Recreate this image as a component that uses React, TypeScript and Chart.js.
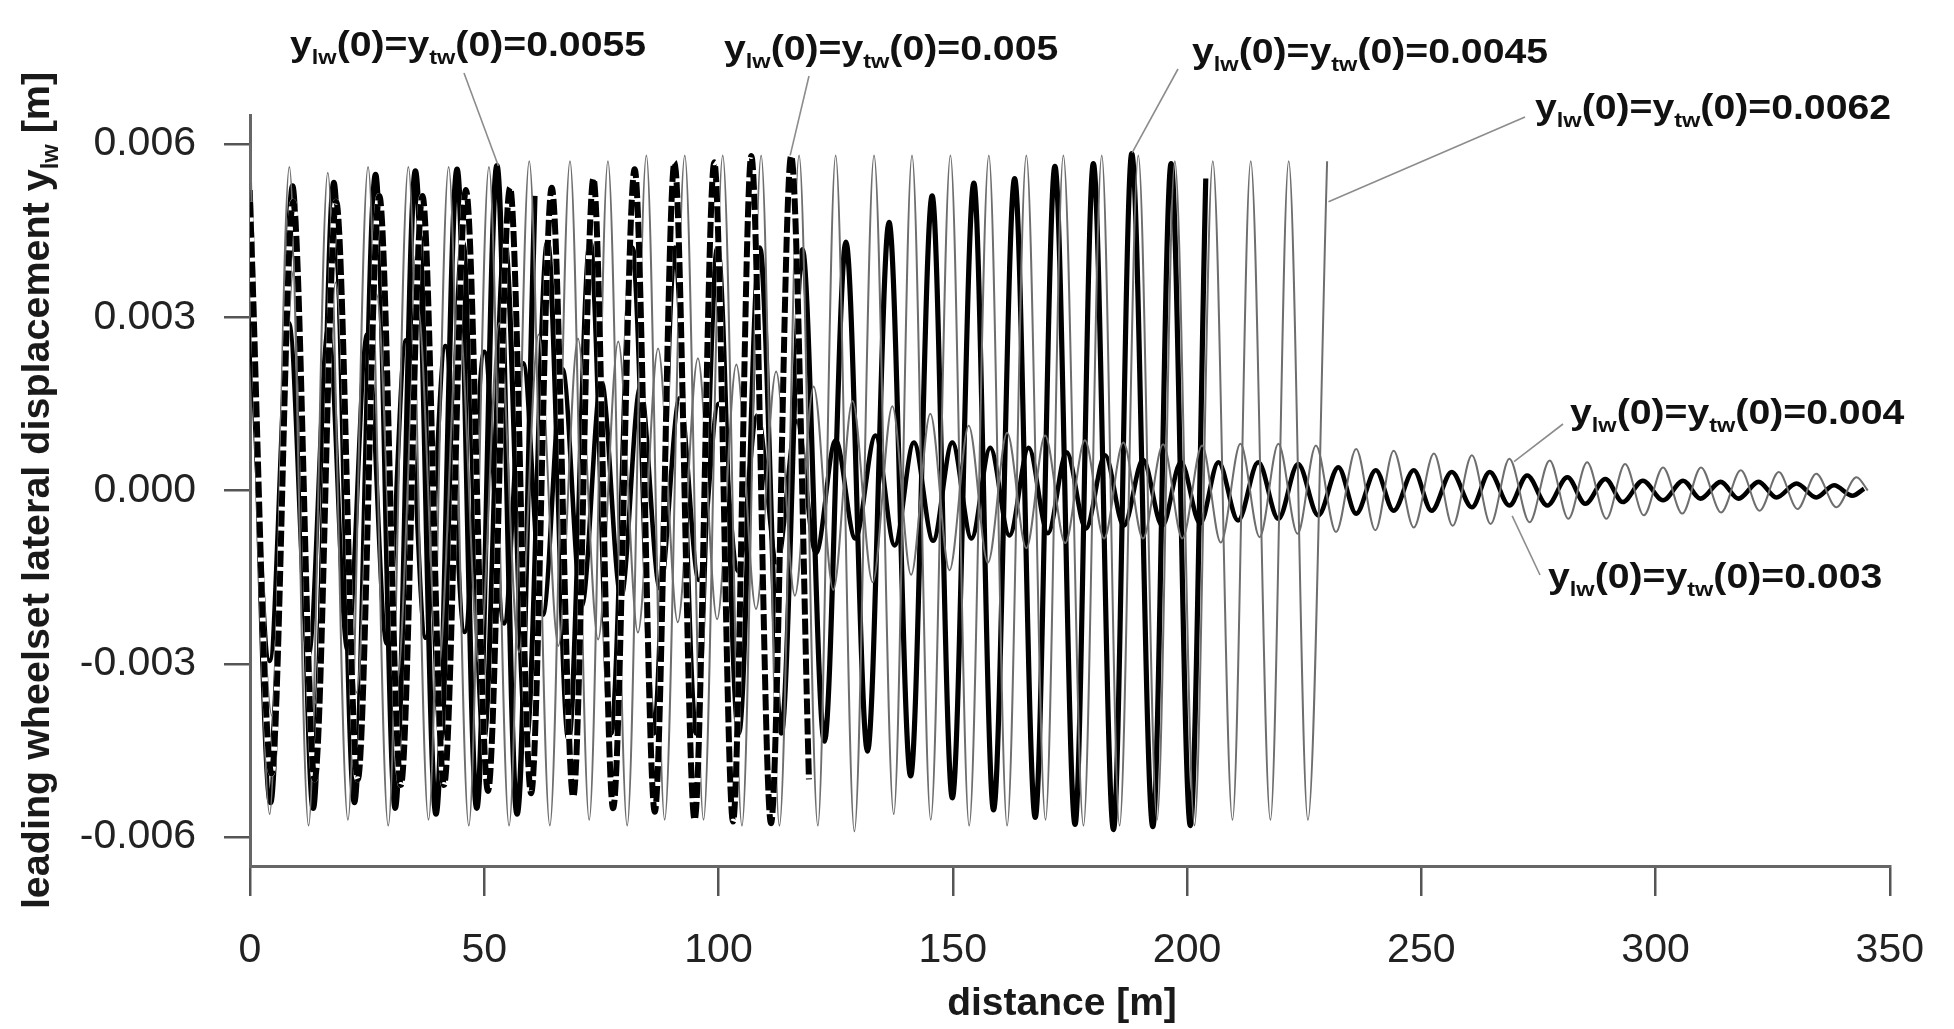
import React, { useEffect, useRef } from 'react';
import { Chart, registerables } from 'chart.js';

Chart.register(...registerables);

// ---------- axes ----------
const xTicks = [0, 50, 100, 150, 200, 250, 300, 350];
const yTicks = [-0.006, -0.003, 0, 0.003, 0.006];

// ---------- series: extrema (x in m, y in m) ----------
// y_lw(0)=y_tw(0)=0.0062  (thin grey)
const s0062PeakX = [0, 8.4, 16.6, 25.2, 33.8, 42.4, 51.0, 59.6, 68.3, 76.4, 84.6, 92.8, 100.9, 109.1, 117.2, 125.0, 133.2, 141.3, 149.5, 157.7, 165.7, 173.6, 181.8, 189.6, 197.4, 205.5, 213.6, 221.7, 229.9];
const s0062PeakY = [0.0060, 0.0056, 0.0055, 0.0056, 0.0056, 0.0056, 0.0056, 0.0057, 0.0057, 0.0057, 0.0058, 0.0058, 0.0058, 0.0058, 0.0058, 0.0058, 0.0058, 0.0058, 0.0058, 0.0058, 0.0058, 0.0058, 0.0058, 0.0058, 0.0057, 0.0057, 0.0057, 0.0057, 0.0057];
const s0062TroughX = [4.2, 12.5, 20.9, 29.5, 38.1, 46.7, 55.3, 64.0, 72.4, 80.5, 88.5, 96.8, 105.0, 113.0, 121.2, 129.0, 137.4, 145.3, 153.5, 161.6, 169.8, 177.9, 185.6, 193.6, 201.6, 209.7, 217.8, 225.8];
const s0062TroughY = [-0.0056, -0.0058, -0.0057, -0.0058, -0.0057, -0.0058, -0.0058, -0.0058, -0.0057, -0.0058, -0.0057, -0.0057, -0.0058, -0.0058, -0.0058, -0.0059, -0.0056, -0.0057, -0.0058, -0.0058, -0.0057, -0.0058, -0.0058, -0.0057, -0.0058, -0.0057, -0.0057, -0.0057];

// y_lw(0)=y_tw(0)=0.0055  (thick solid)
const s0055PeakX = [0, 9.1, 17.9, 26.8, 35.3, 44.2, 52.7, 60.8];
const s0055PeakY = [0.0052, 0.00527, 0.00533, 0.00547, 0.00553, 0.00556, 0.00562, 0.0051];
const s0055TroughX = [4.4, 13.5, 22.3, 31.0, 39.7, 48.4, 57.0];
const s0055TroughY = [-0.0054, -0.0055, -0.0054, -0.0055, -0.0056, -0.0055, -0.0056];

// y_lw(0)=y_tw(0)=0.005  (thick dashed)
const s005PeakX = [0, 9.2, 18.4, 27.6, 36.8, 46.1, 55.5, 64.4, 73.3, 82.1, 90.6, 99.1, 107.0, 115.5];
const s005PeakY = [0.0050, 0.0050, 0.0050, 0.0051, 0.0051, 0.0052, 0.00524, 0.00524, 0.0054, 0.00556, 0.00568, 0.00568, 0.00579, 0.00579];
const s005TroughX = [4.6, 13.8, 23.0, 32.2, 41.4, 50.8, 60.0, 69.0, 77.5, 86.4, 94.9, 103.1, 111.2, 119.3];
const s005TroughY = [-0.0049, -0.0050, -0.0050, -0.0051, -0.0051, -0.0052, -0.00524, -0.0053, -0.0055, -0.00556, -0.0057, -0.00573, -0.00576, -0.0050];

// y_lw(0)=y_tw(0)=0.0045  (thick solid)
const s0045PeakX = [0, 9.1, 18.1, 27.2, 36.3, 45.4, 54.4, 63.5, 72.6, 81.6, 90.7, 99.8, 108.8, 117.9, 127.2, 136.4, 145.6, 154.5, 163.2, 171.8, 180.0, 188.2, 196.6, 204.0];
const s0045PeakY = [0.0045, 0.0045, 0.0044, 0.0044, 0.0044, 0.0043, 0.0043, 0.0043, 0.0043, 0.0042, 0.0042, 0.0042, 0.0042, 0.00417, 0.0043, 0.00464, 0.0051, 0.00532, 0.0054, 0.00561, 0.00566, 0.00583, 0.00566, 0.0054];
const s0045TroughX = [4.5, 13.6, 22.7, 31.7, 40.8, 49.9, 59.0, 68.0, 77.1, 86.2, 95.2, 104.3, 113.4, 122.6, 131.8, 141.0, 149.9, 158.7, 167.6, 176.1, 184.3, 192.7, 200.7];
const s0045TroughY = [-0.0045, -0.0044, -0.0044, -0.0044, -0.0043, -0.0043, -0.0043, -0.0043, -0.0042, -0.0042, -0.0042, -0.0042, -0.0042, -0.00434, -0.00451, -0.00494, -0.00532, -0.00553, -0.00566, -0.00578, -0.00587, -0.00582, -0.0058];

// y_lw(0)=y_tw(0)=0.004  (thin grey)
const s004PeakX = [0, 9.3, 18.3, 27.0, 35.8, 44.6, 53.2, 61.6, 70.0, 78.6, 87.1, 95.6, 103.8, 112.3, 120.3, 128.6, 137.1, 145.2, 153.4, 161.6, 169.7, 178.2, 186.4, 194.9, 203.2, 211.4, 219.5, 227.5, 236.1, 244.1, 252.7, 260.8, 268.8, 277.4, 285.4, 293.5, 301.6, 309.7, 318.2, 326.3, 334.3, 342.9];
const s004PeakY = [0.0040, 0.0038, 0.0036, 0.0034, 0.0032, 0.0030, 0.0029, 0.0027, 0.00263, 0.00258, 0.00246, 0.00229, 0.00218, 0.00206, 0.0018, 0.00155, 0.00146, 0.00133, 0.00112, 0.0010, 0.00095, 0.00087, 0.00083, 0.0008, 0.00078, 0.00081, 0.00081, 0.00078, 0.00072, 0.00069, 0.00064, 0.00061, 0.00055, 0.00052, 0.00049, 0.00046, 0.0004, 0.0004, 0.00035, 0.00032, 0.00029, 0.00023];
const s004TroughX = [4.7, 13.8, 22.7, 31.4, 40.2, 48.9, 57.4, 65.8, 74.3, 82.8, 91.3, 99.7, 108.0, 116.3, 124.5, 132.9, 141.1, 149.3, 157.5, 165.7, 174.0, 182.3, 190.6, 199.0, 207.2, 215.5, 223.6, 231.8, 240.2, 248.4, 256.7, 264.8, 273.1, 281.4, 289.5, 297.5, 305.7, 314.0, 322.2, 330.3, 338.6, 345.3];
const s004TroughY = [-0.0039, -0.0037, -0.0035, -0.0033, -0.0031, -0.0030, -0.0028, -0.00269, -0.00258, -0.00246, -0.00228, -0.00223, -0.00205, -0.00182, -0.00172, -0.00159, -0.00146, -0.00138, -0.00125, -0.0010, -0.00091, -0.00083, -0.00083, -0.00083, -0.0009, -0.00081, -0.00075, -0.00072, -0.00069, -0.00064, -0.00061, -0.00058, -0.00055, -0.00049, -0.00049, -0.00043, -0.0004, -0.00038, -0.00035, -0.00032, -0.00029, 0.0];

// y_lw(0)=y_tw(0)=0.003  (thick solid)
const s003PeakX = [0, 8.3, 16.7, 25.0, 33.3, 41.7, 50.0, 58.3, 66.7, 75.0, 83.3, 91.7, 100.0, 108.3, 116.7, 125.0, 133.5, 141.7, 149.9, 158.0, 166.2, 174.3, 182.5, 190.6, 198.7, 206.7, 215.2, 223.7, 232.3, 240.3, 248.4, 256.5, 264.6, 272.6, 281.2, 289.3, 297.3, 305.9, 313.9, 322.0, 330.1, 338.1, 344.5];
const s003PeakY = [0.0030, 0.0029, 0.0028, 0.0027, 0.0026, 0.0025, 0.0024, 0.0022, 0.0021, 0.0019, 0.0018, 0.0016, 0.0015, 0.0013, 0.0012, 0.00087, 0.00095, 0.00083, 0.00083, 0.00074, 0.00074, 0.00066, 0.00061, 0.00053, 0.00049, 0.00049, 0.00049, 0.00046, 0.0004, 0.00035, 0.00035, 0.00032, 0.00032, 0.00026, 0.00023, 0.0002, 0.00017, 0.00017, 0.00015, 0.00015, 0.00012, 0.00009, 0.00003];
const s003TroughX = [4.2, 12.5, 20.8, 29.2, 37.5, 45.8, 54.2, 62.5, 70.8, 79.2, 87.5, 95.8, 104.2, 112.5, 120.8, 129.2, 137.6, 145.8, 154.0, 162.1, 170.3, 178.4, 186.5, 194.7, 202.8, 210.9, 219.5, 228.0, 236.1, 244.1, 252.2, 260.8, 268.8, 276.9, 285.0, 293.0, 301.6, 309.6, 317.7, 325.8, 334.3, 342.0];
const s003TroughY = [-0.00295, -0.00285, -0.00275, -0.00265, -0.00255, -0.00245, -0.0023, -0.00215, -0.002, -0.00185, -0.0017, -0.00155, -0.0014, -0.00125, -0.00108, -0.00083, -0.00095, -0.00087, -0.00083, -0.00078, -0.00074, -0.00066, -0.00061, -0.00061, -0.00057, -0.00052, -0.00049, -0.00043, -0.0004, -0.00035, -0.00035, -0.00029, -0.00026, -0.00026, -0.00023, -0.0002, -0.00017, -0.00014, -0.00014, -0.00012, -0.00012, -0.00009];

// ---------- annotations ----------
const annValues = ['0.0055', '0.005', '0.0045', '0.0062', '0.004', '0.003'];
const annAnchorX = [53.0, 115.3, 188.3, 230.2, 269.8, 269.4];
const annAnchorY = [0.00562, 0.0058, 0.00585, 0.0050, 0.0005, -0.00044];
// label layout (pixels): text left, text baseline, leader start
const annTextLeft = [290, 724, 1192, 1535, 1570, 1548];
const annTextBase = [56, 60, 63, 119, 424, 588];
const annLeadX = [464, 809, 1178, 1525, 1563, 1540];
const annLeadY = [73, 76, 69, 117, 424, 575];

const FAM = "'Liberation Sans', Arial, Helvetica, sans-serif";

function merge(px: number[], py: number[], tx: number[], ty: number[]) {
  const pts: { x: number; y: number }[] = [];
  const n1 = Math.min(px.length, py.length);
  for (let i = 0; i < n1; i++) pts.push({ x: px[i], y: py[i] });
  const n2 = Math.min(tx.length, ty.length);
  for (let i = 0; i < n2; i++) pts.push({ x: tx[i], y: ty[i] });
  pts.sort((a, b) => a.x - b.x);
  return pts;
}

type Seg = { t: string; sub?: boolean };

function drawRich(ctx: CanvasRenderingContext2D, segs: Seg[], size: number, stretch: number, center: boolean) {
  const subSize = size * 0.6;
  const widths = segs.map((s) => {
    ctx.font = `bold ${s.sub ? subSize : size}px ${FAM}`;
    return ctx.measureText(s.t).width;
  });
  const total = widths.reduce((a, b) => a + b, 0);
  ctx.save();
  ctx.scale(stretch, 1);
  let cx = center ? -total / 2 : 0;
  ctx.textAlign = 'left';
  ctx.textBaseline = 'alphabetic';
  segs.forEach((s, i) => {
    ctx.font = `bold ${s.sub ? subSize : size}px ${FAM}`;
    ctx.fillText(s.t, cx, s.sub ? size * 0.24 : 0);
    cx += widths[i];
  });
  ctx.restore();
}

const textPlugin = {
  id: 'textPlugin',
  afterDraw(chart: any) {
    const ctx: CanvasRenderingContext2D = chart.ctx;
    const xs = chart.scales.x;
    const ys = chart.scales.y;
    const area = chart.chartArea;

    // leader lines
    ctx.save();
    ctx.strokeStyle = '#8c8c8c';
    ctx.lineWidth = 1.6;
    annValues.forEach((_, i) => {
      ctx.beginPath();
      ctx.moveTo(annLeadX[i], annLeadY[i]);
      ctx.lineTo(xs.getPixelForValue(annAnchorX[i]), ys.getPixelForValue(annAnchorY[i]));
      ctx.stroke();
    });
    ctx.restore();

    // labels
    ctx.save();
    ctx.fillStyle = '#111';
    annValues.forEach((v, i) => {
      ctx.save();
      ctx.translate(annTextLeft[i], annTextBase[i]);
      drawRich(
        ctx,
        [{ t: 'y' }, { t: 'lw', sub: true }, { t: '(0)=y' }, { t: 'tw', sub: true }, { t: '(0)=' + v }],
        35,
        1.12,
        false
      );
      ctx.restore();
    });
    ctx.restore();

    // y axis title
    ctx.save();
    ctx.fillStyle = '#1a1a1a';
    ctx.translate(49, (area.top + area.bottom) / 2);
    ctx.rotate(-Math.PI / 2);
    drawRich(ctx, [{ t: 'leading wheelset lateral displacement y' }, { t: 'lw', sub: true }, { t: ' [m]' }], 39.5, 1, true);
    ctx.restore();

    // x axis title
    ctx.save();
    ctx.fillStyle = '#1a1a1a';
    ctx.translate(area.left + 812, 1015);
    drawRich(ctx, [{ t: 'distance [m]' }], 39, 1, true);
    ctx.restore();
  },
};

export default function App() {
  const ref = useRef<HTMLCanvasElement | null>(null);

  useEffect(() => {
    if (!ref.current) return;
    const grey = '#6e6e6e';
    const d0062 = merge(s0062PeakX, s0062PeakY, s0062TroughX, s0062TroughY);
    const d0055 = merge(s0055PeakX, s0055PeakY, s0055TroughX, s0055TroughY);
    const d005 = merge(s005PeakX, s005PeakY, s005TroughX, s005TroughY);
    const d0045 = merge(s0045PeakX, s0045PeakY, s0045TroughX, s0045TroughY);
    const d004 = merge(s004PeakX, s004PeakY, s004TroughX, s004TroughY);
    const d003 = merge(s003PeakX, s003PeakY, s003TroughX, s003TroughY);

    const chart = new Chart(ref.current, {
      type: 'line',
      data: {
        datasets: [
          { label: '0.005', data: d005, borderColor: '#000', borderWidth: 6, borderDash: [16, 4] },
          { label: '0.005w', data: d005, borderColor: '#fff', borderWidth: 6 },
          { label: '0.0062', data: d0062, borderColor: grey, borderWidth: 2 },
          { label: '0.004', data: d004, borderColor: grey, borderWidth: 2 },
          { label: '0.003', data: d003, borderColor: '#000', borderWidth: 4.6 },
          { label: '0.0045', data: d0045, borderColor: '#000', borderWidth: 5.2 },
          { label: '0.0055', data: d0055, borderColor: '#000', borderWidth: 5.5 },
        ] as any,
      },
      options: {
        animation: false,
        responsive: false,
        devicePixelRatio: 1,
        layout: { padding: { left: 0, right: 60, top: 115, bottom: 0 } },
        plugins: { legend: { display: false }, tooltip: { enabled: false } },
        elements: {
          point: { radius: 0 },
          line: { cubicInterpolationMode: 'monotone', fill: false, borderJoinStyle: 'round', borderCapStyle: 'butt' },
        },
        scales: {
          x: {
            type: 'linear',
            min: 0,
            max: 350,
            afterBuildTicks: (s: any) => {
              s.ticks = xTicks.map((v) => ({ value: v }));
            },
            afterFit: (s: any) => {
              s.height = 163;
            },
            grid: { drawOnChartArea: false, drawTicks: true, tickLength: 30, color: '#555', lineWidth: 2.5 },
            border: { display: true, color: '#666', width: 3 },
            ticks: {
              color: '#222',
              font: { family: FAM, size: 41 },
              padding: 30,
              maxRotation: 0,
              autoSkip: false,
              callback: (v: any) => String(v),
            },
          },
          y: {
            type: 'linear',
            min: -0.0065,
            max: 0.0065,
            afterBuildTicks: (s: any) => {
              s.ticks = yTicks.map((v) => ({ value: v }));
            },
            afterFit: (s: any) => {
              s.width = 250;
            },
            grid: { drawOnChartArea: false, drawTicks: true, tickLength: 26, color: '#555', lineWidth: 2.5 },
            border: { display: true, color: '#666', width: 3 },
            ticks: {
              color: '#222',
              font: { family: FAM, size: 41 },
              padding: 28,
              autoSkip: false,
              callback: (v: any) => Number(v).toFixed(3),
            },
          },
        },
      } as any,
      plugins: [textPlugin],
    });
    return () => chart.destroy();
  }, []);

  return (
    <div style={{ position: 'absolute', left: 0, top: 0, width: 1954, height: 1029, background: '#fff' }}>
      <canvas ref={ref} width={1954} height={1029} style={{ display: 'block', width: 1954, height: 1029 }} />
    </div>
  );
}
